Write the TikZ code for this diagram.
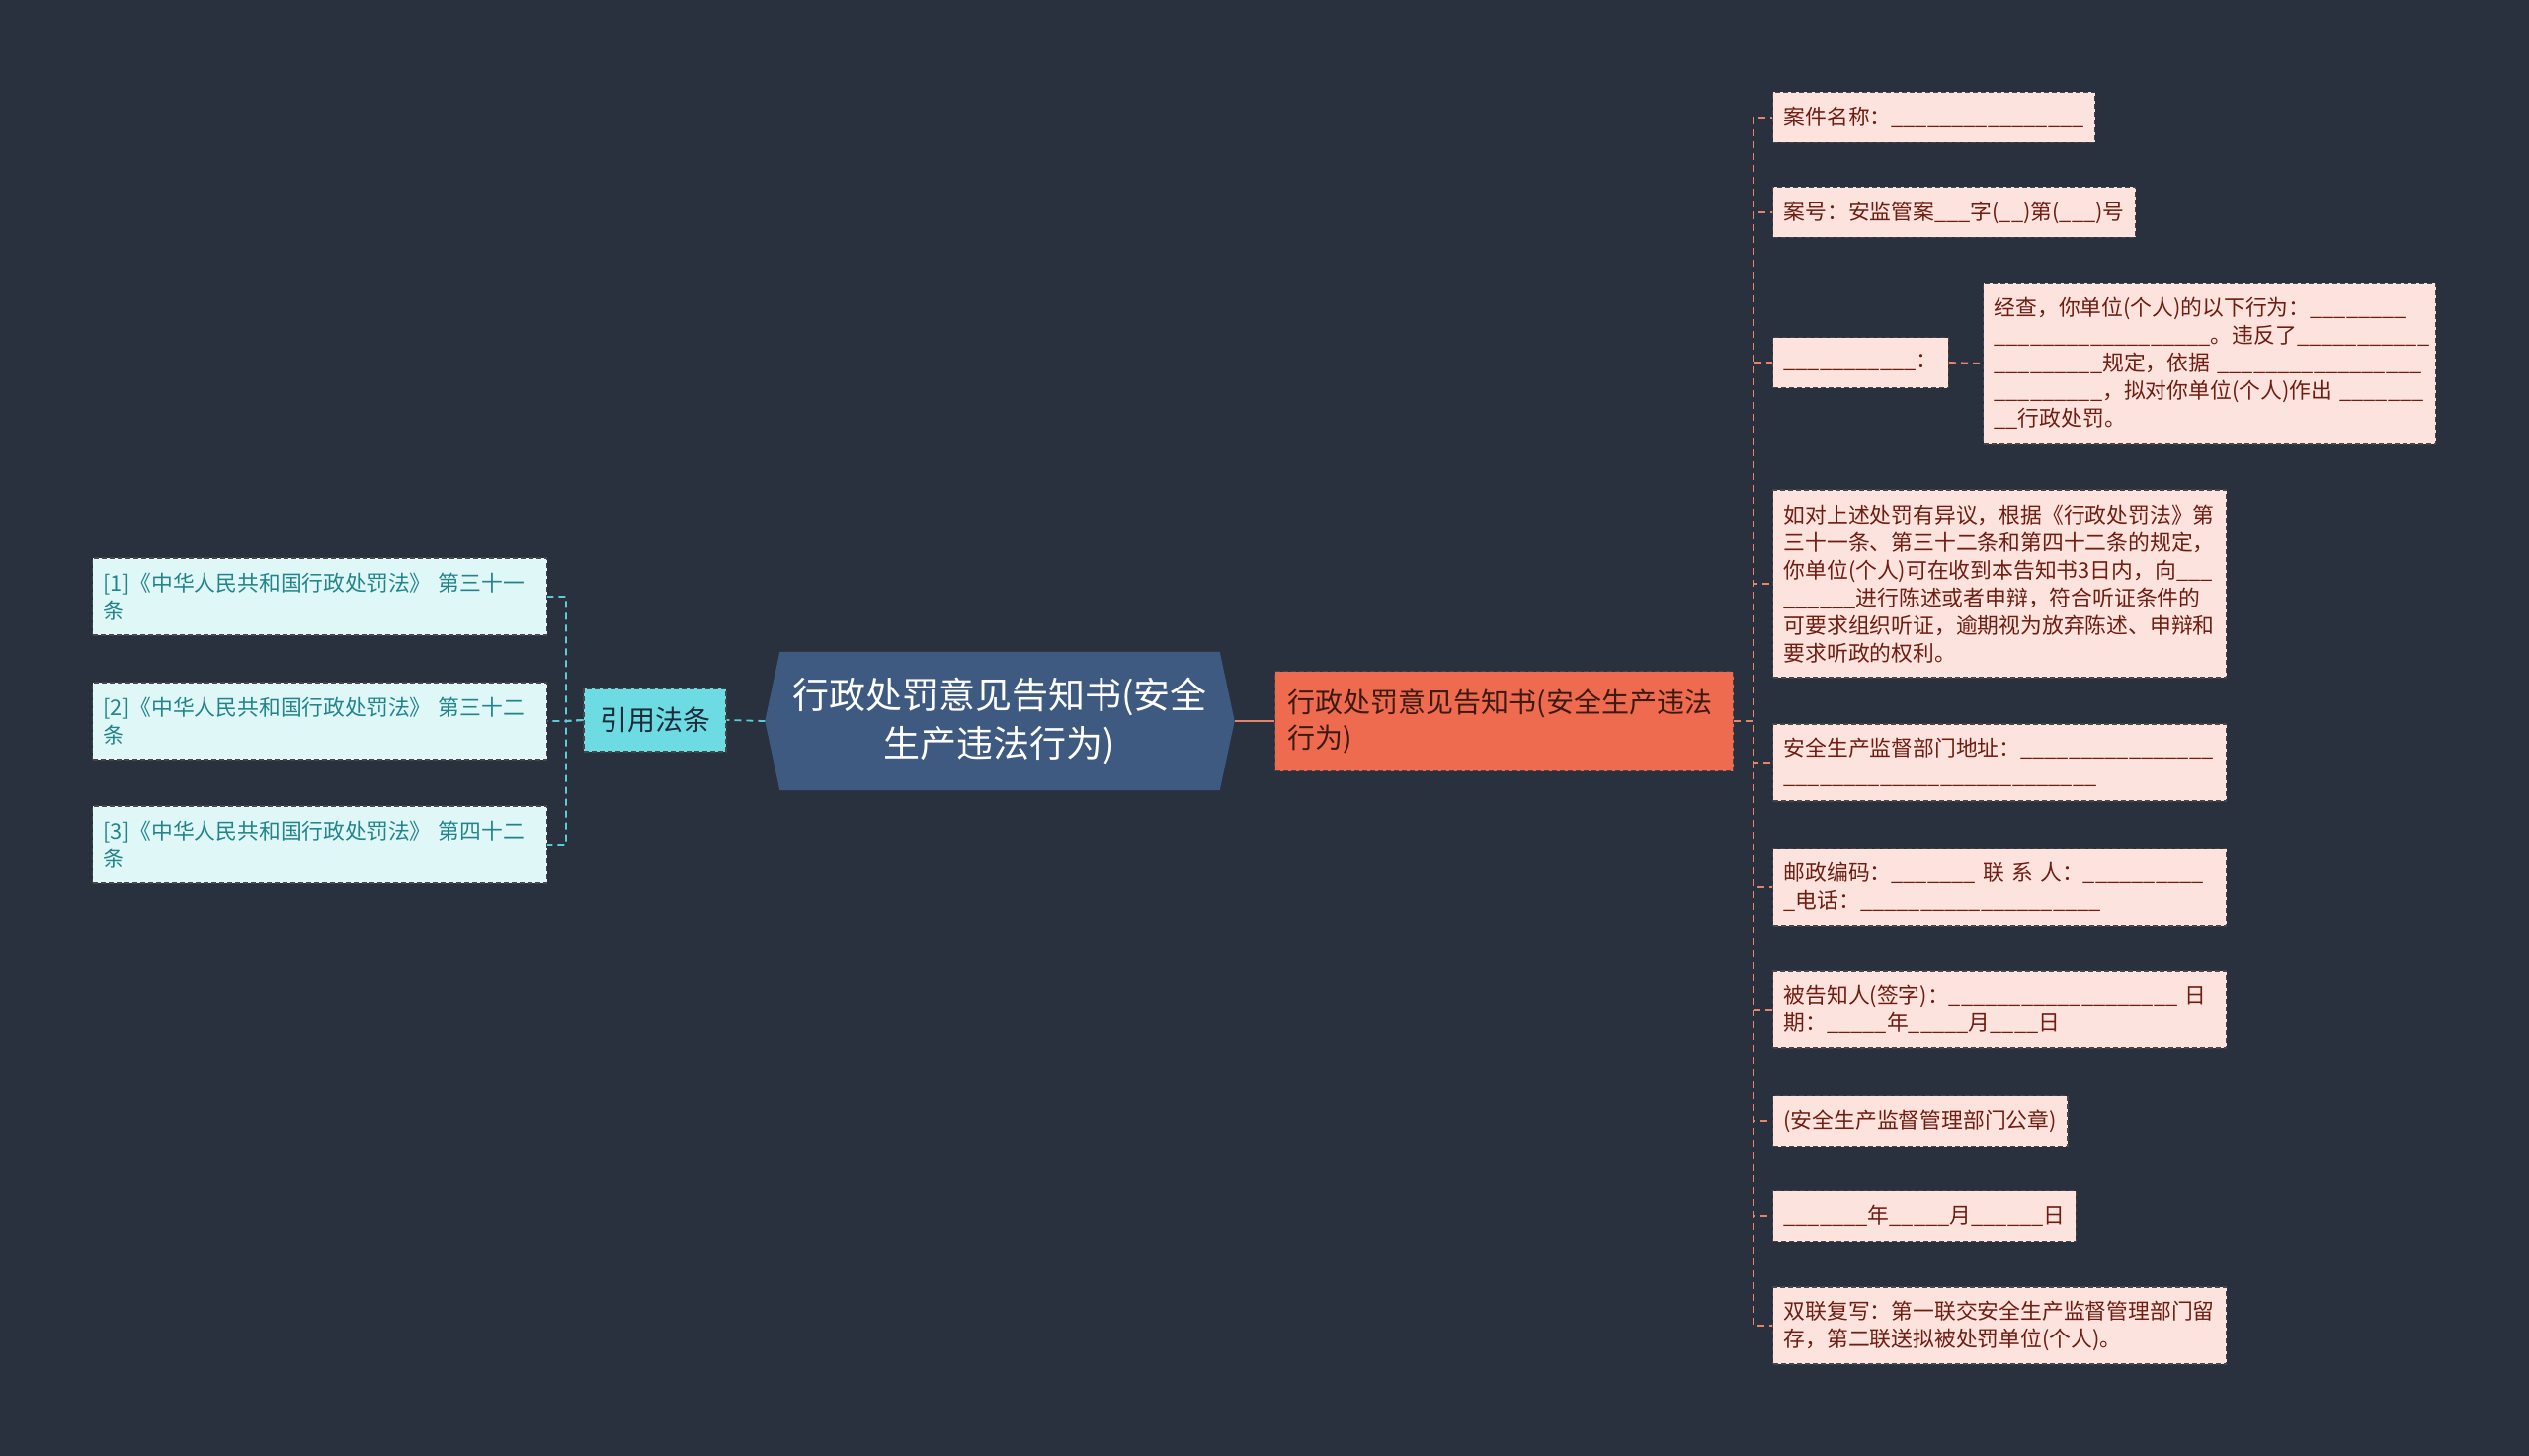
\documentclass[tikz,border=0pt]{standalone}
\usepackage{fontspec}
\newfontfamily\cjk{Noto Sans CJK SC}
\usetikzlibrary{backgrounds}
\newcommand\ubar{\_}
\ExplSyntaxOn
\cs_new:Npn \myrepeat #1 {\prg_replicate:nn {#1} {\ubar}}
\ExplSyntaxOff
\newcommand\bk[1]{\myrepeat{#1}}
\definecolor{bgc}{HTML}{29313F}
\definecolor{rootfill}{HTML}{3F5A80}
\definecolor{citefill}{HTML}{6CDCE2}
\definecolor{citetext}{HTML}{1E2B3A}
\definecolor{lfill}{HTML}{E0F7F8}
\definecolor{ltext}{HTML}{23858A}
\definecolor{ofill}{HTML}{EF6B4F}
\definecolor{otext}{HTML}{3C1A12}
\definecolor{rfill}{HTML}{FDE3DD}
\definecolor{rtext}{HTML}{6E1E12}
\definecolor{rconc}{HTML}{E8826B}
\definecolor{lconc}{HTML}{5CCBD3}
\definecolor{bord}{HTML}{4A4448}
\begin{document}
\begin{tikzpicture}[x=1pt,y=-1pt,
  leaffont/.style={font=\cjk\fontsize{21.8pt}{28pt}\selectfont},
  boxbase/.style={draw=bord, dash pattern=on 5pt off 3pt, line width=1.2pt, inner xsep=11pt, inner ysep=0pt, align=left},
  rleaf/.style={boxbase, fill=rfill, text=rtext, leaffont, anchor=west, minimum height=51pt},
  lleaf/.style={boxbase, fill=lfill, text=ltext, leaffont, anchor=west, text width=438pt, minimum height=78pt},
  rootnode/.style={text=white, font=\cjk\fontsize{37pt}{49pt}\selectfont, align=center, minimum width=475pt, minimum height=140pt, inner sep=0pt},
  citenode/.style={boxbase, fill=citefill, text=citetext, font=\cjk\fontsize{28pt}{36pt}\selectfont, minimum width=144pt, minimum height=64pt, inner xsep=0pt},
  topicnode/.style={boxbase, fill=ofill, text=otext, font=\cjk\fontsize{28pt}{36pt}\selectfont, text width=438pt, inner xsep=13pt, minimum height=101pt, anchor=west},
  rconn/.style={draw=rconc, line width=1.8pt, dash pattern=on 7pt off 5pt},
  lconn/.style={draw=lconc, line width=1.8pt, dash pattern=on 7pt off 5pt}
]
\useasboundingbox (0,0) rectangle (2560,1474);

% central node
\node[rootnode] (root) at (1012,730) {行政处罚意见告知书(安全\\生产违法行为)};

% left branch
\node[citenode] (cite) at (663,729) {引用法条};
\node[lleaf] (l1) at (93,604) {[1]《中华人民共和国行政处罚法》~第三十一\\条};
\node[lleaf] (l2) at (93,730) {[2]《中华人民共和国行政处罚法》~第三十二\\条};
\node[lleaf] (l3) at (93,855) {[3]《中华人民共和国行政处罚法》~第四十二\\条};

% right branch
\node[topicnode] (topic) at (1290,730) {行政处罚意见告知书(安全生产违法\\行为)};

\node[rleaf] (c1) at (1794,119) {案件名称：\bk{16}};
\node[rleaf] (c2) at (1794,215) {案号：安监管案\bk{3}字(\bk{2})第(\bk{3})号};
\node[rleaf] (c3) at (1794,367) {\bk{11}：};
\node[rleaf, text width=436pt, minimum height=162pt] (c3x) at (2007,368) {经查，你单位(个人)的以下行为：\bk{8}\\\bk{18}。违反了\bk{11}\\\bk{9}规定，依据~\bk{17}\\\bk{9}，拟对你单位(个人)作出~\bk{7}\\\bk{2}行政处罚。};
\node[rleaf, text width=437pt, minimum height=190pt] (c4) at (1794,591) {如对上述处罚有异议，根据《行政处罚法》第\\三十一条、第三十二条和第四十二条的规定，\\你单位(个人)可在收到本告知书3日内，向\bk{3}\\\bk{6}进行陈述或者申辩，符合听证条件的\\可要求组织听证，逾期视为放弃陈述、申辩和\\要求听政的权利。};
\node[rleaf, text width=437pt, minimum height=78pt] (c5) at (1794,772) {安全生产监督部门地址：\bk{16}\\\bk{26}};
\node[rleaf, text width=437pt, minimum height=78pt] (c6) at (1794,898) {邮政编码：\bk{7}~联~系~人：\bk{10}\\\_电话：\bk{20}};
\node[rleaf, text width=437pt, minimum height=78pt] (c7) at (1794,1022) {被告知人(签字)：\bk{19}~日\\期：\bk{5}年\bk{5}月\bk{4}日};
\node[rleaf] (c8) at (1794,1135) {(安全生产监督管理部门公章)};
\node[rleaf] (c9) at (1794,1231) {\bk{7}年\bk{5}月\bk{6}日};
\node[rleaf, text width=437pt, minimum height=78pt] (c10) at (1794,1342) {双联复写：第一联交安全生产监督管理部门留\\存，第二联送拟被处罚单位(个人)。};

\begin{scope}[on background layer]
  \fill[bgc] (0,0) rectangle (2560,1474);
  \fill[rootfill] (root.west) -- ([xshift=15pt]root.north west) -- ([xshift=-15pt]root.north east)
     -- (root.east) -- ([xshift=-15pt]root.south east) -- ([xshift=15pt]root.south west) -- cycle;
\end{scope}

% connectors
\coordinate (lj) at (573,730);
\coordinate (rj) at (1775,730);
\draw[lconn] (root.west) -- (cite.east);
\foreach \n in {l1,l2,l3} \draw[lconn] (cite.west) -- (lj) |- (\n.east);
\draw[draw=rconc, line width=1.8pt] (root.east) -- (topic.west);
\foreach \n in {c1,c2,c3,c4,c5,c6,c7,c8,c9,c10} \draw[rconn] (topic.east) -- (rj) |- (\n.west);
\draw[rconn] (c3.east) -- (c3x.west);
\end{tikzpicture}
\end{document}
